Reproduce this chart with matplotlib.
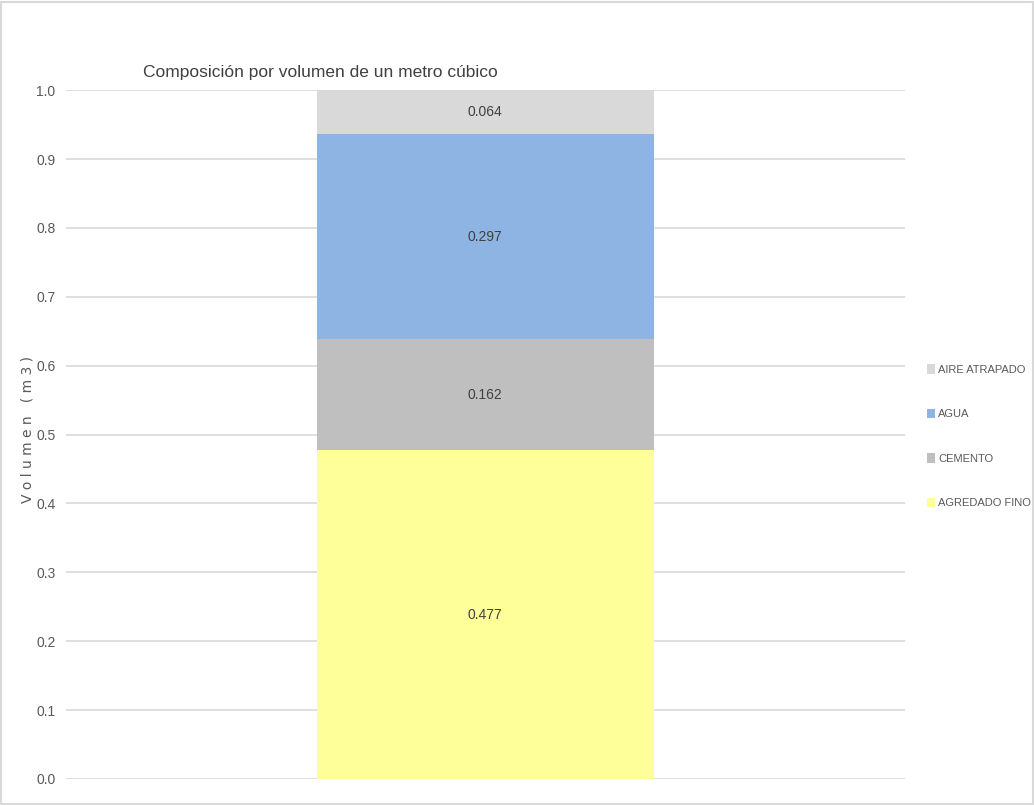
import matplotlib
matplotlib.use("Agg")
import matplotlib.pyplot as plt
from matplotlib.patches import Rectangle

# stacked from bottom to top
components = ["AGREDADO FINO", "CEMENTO", "AGUA", "AIRE ATRAPADO"]
volumes = [0.477, 0.162, 0.297, 0.064]
colors = ["#ffff99", "#bfbfbf", "#8eb4e3", "#d9d9d9"]
yticks = [0.0, 0.1, 0.2, 0.3, 0.4, 0.5, 0.6, 0.7, 0.8, 0.9, 1.0]

plt.rcParams["font.family"] = ["Liberation Sans", "DejaVu Sans"]

fig = plt.figure(figsize=(10.34, 8.05), dpi=100)
ax = fig.add_axes([0.0638, 0.0323, 0.8112, 0.8557])

bottom = 0.0
handles = []
for name, v, c in zip(components, volumes, colors):
    b = ax.bar(0, v, width=0.402, bottom=bottom, color=c, label=name, zorder=2)
    ax.text(0, bottom + v / 2, f"{v:.3f}", ha="center", va="center",
            fontsize=10, color="#404040")
    handles.append(b)
    bottom += v

ax.set_xlim(-0.5, 0.5)
ax.set_ylim(0, 1.0)
ax.set_yticks(yticks)
ax.set_yticklabels([f"{t:.1f}" for t in yticks])
ax.set_xticks([])
ax.tick_params(axis="y", length=0, pad=7.5, labelsize=10, labelcolor="#595959")
ax.grid(axis="y", color="#d9d9d9", linewidth=1.2, zorder=0)
for s in ax.spines.values():
    s.set_visible(False)

fig.text(0.027, 0.466, "V o l u m e n   ( m 3 )", rotation=90, ha="center", va="center",
         fontsize=10, color="#595959", family="DejaVu Sans")
fig.text(0.138, 0.910, "Composición por volumen de un metro cúbico",
         ha="left", va="center", fontsize=12.5, color="#404040")

leg = fig.legend(handles[::-1], components[::-1], loc="center left",
                 bbox_to_anchor=(0.897, 0.458), frameon=False, fontsize=8,
                 handlelength=0.65, handleheight=0.95, handletextpad=0.3,
                 labelspacing=3.05, labelcolor="#595959", borderpad=0,
                 borderaxespad=0)

fig.patches.append(Rectangle((0.001, 0.001), 0.998, 0.996, transform=fig.transFigure,
                             fill=False, edgecolor="#d9d9d9", linewidth=1.5))

fig.savefig("out.png", dpi=100)
